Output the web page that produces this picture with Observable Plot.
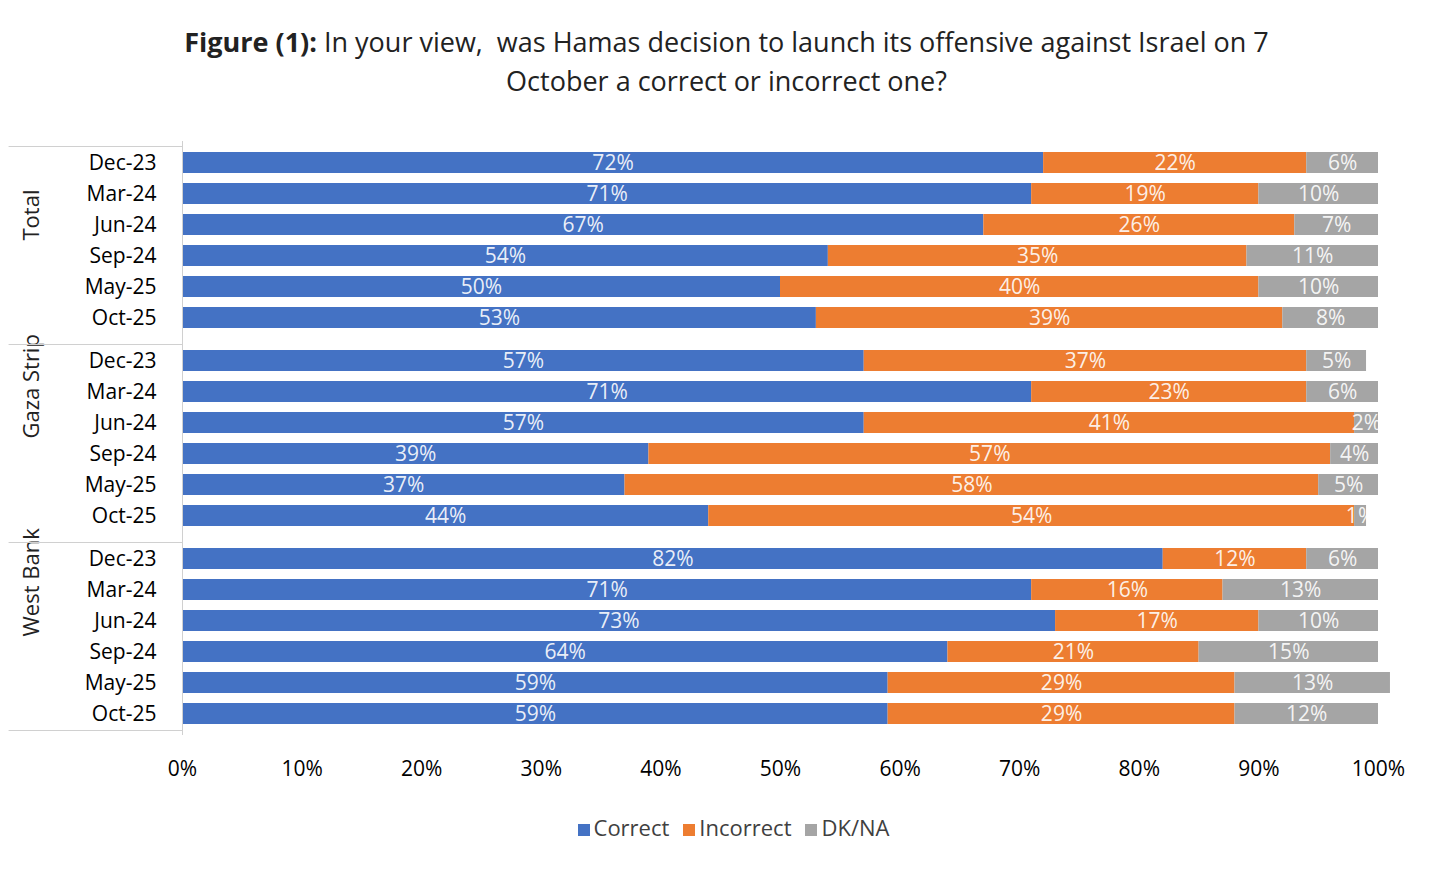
<!DOCTYPE html>
<html><head><meta charset="utf-8">
<script src="https://cdn.jsdelivr.net/npm/d3@7"></script>
<script src="https://cdn.jsdelivr.net/npm/@observablehq/plot@0.6"></script>
<style>
body{margin:0;background:#fff;font-family:"Open Sans",sans-serif;}
#title{height:128px;box-sizing:border-box;padding-top:22px;text-align:center;font-size:27px;line-height:39px;color:#222;}
#legend{text-align:center;font-size:22px;color:#404040;margin-top:4px;}
#legend span.sw{display:inline-block;width:12px;height:12px;margin:0 4px 0 14px;}
</style></head><body>
<div id="title"><b>Figure (1):</b> In your view,&nbsp; was Hamas decision to launch its offensive against Israel on 7<br>October a correct or incorrect one?</div>
<div id="chart"></div>
<div id="legend"></div>
<script>
const groups = ["Total","Gaza Strip","West Bank"];
const periods = ["Dec-23","Mar-24","Jun-24","Sep-24","May-25","Oct-25"];
const answers = ["Correct","Incorrect","DK/NA"];
const colors = ["#4472C4","#ED7D31","#A5A5A5"];
const correct = [[72,71,67,54,50,53],[57,71,57,39,37,44],[82,71,73,64,59,59]];
const incorrect = [[22,19,26,35,40,39],[37,23,41,57,58,54],[12,16,17,21,29,29]];
const dkna = [[6,10,7,11,10,8],[5,6,2,4,5,1],[6,13,10,15,13,12]];
const series = [correct, incorrect, dkna];
const data = [];
groups.forEach((g,gi)=>periods.forEach((p,pi)=>answers.forEach((a,ai)=>
  data.push({group:g, period:p, answer:a, value:series[ai][gi][pi]/100}))));
const sepColor="#d0d0d0";
const chart = Plot.plot({
  width:1453, height:680, marginLeft:182, marginRight:75, marginTop:12, marginBottom:73,
  style:{fontFamily:"Open Sans, sans-serif", fontSize:"21px"},
  x:{domain:[0,1], ticks:d3.range(0,1.01,0.1), tickFormat:d3.format(".0%"), tickSize:0, tickPadding:26, label:null, color:"#595959"},
  y:{domain:periods, padding:0.33, label:null, tickSize:0, tickPadding:26, color:"#222"},
  fy:{domain:groups, padding:0, axis:null, label:null},
  color:{domain:answers, range:colors},
  marks:[
    Plot.barX(data, Plot.stackX({x:"value", y:"period", fy:"group", fill:"answer", z:"answer", order:answers})),
    Plot.text(data, Plot.stackX({x:"value", y:"period", fy:"group", z:"answer", order:answers, text:d=>Math.round(d.value*100)+"%", fill:"white", fontSize:21, fillOpacity:0.9})),
    Plot.text(groups, {fy:d=>d, text:d=>d, frameAnchor:"left", dx:-151, rotate:-90, fontSize:22, fill:"#222"}),
    Plot.ruleY(groups, {fy:d=>d, y:()=>"Dec-23", dy:-16.5, x1:-0.145, x2:0, stroke:sepColor}),
    Plot.ruleY(["West Bank"], {fy:d=>d, y:()=>"Oct-25", dy:16.5, x1:-0.145, x2:0, stroke:sepColor}),
    Plot.ruleX(groups, {fy:d=>d, x:()=>0, stroke:sepColor})
  ]
});
document.getElementById("chart").appendChild(chart);
document.getElementById("legend").innerHTML = answers.map((a,i)=>`<span class="sw" style="background:${colors[i]}"></span>${a}`).join("");
</script></body></html>
